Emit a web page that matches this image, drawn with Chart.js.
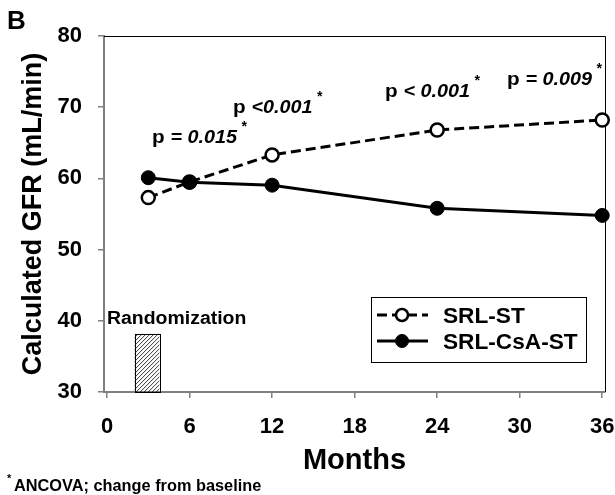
<!DOCTYPE html>
<html>
<head>
<meta charset="utf-8">
<script src="https://cdn.jsdelivr.net/npm/chart.js@4/dist/chart.umd.min.js"></script>
<style>
  html, body { margin: 0; padding: 0; background: #fff; }
  #wrap { width: 615px; height: 495px; }
</style>
</head>
<body>
<div id="wrap"><canvas id="chart" width="615" height="495"></canvas></div>
<script>
// values
const months = [3, 6, 12, 24, 36];
const srlSt = [57.3, 59.5, 63.3, 66.8, 68.2];
const srlCsaSt = [60.1, 59.45, 59.05, 55.8, 54.8];
const xTicks = [0, 6, 12, 18, 24, 30, 36];
const yTicks = [30, 40, 50, 60, 70, 80];
const randSpan = [2, 3.8];      // months covered by the randomization box
const randTop = 38.2;           // box height in mL/min
const pNotes = ["= 0.015", "<0.001", "< 0.001", "= 0.009"];

const FONT = "'Liberation Sans', Arial, Helvetica, sans-serif";
Chart.defaults.font.family = FONT;
Chart.defaults.color = "#000";

const toPts = (ys) => months.map((m, i) => ({ x: m, y: ys[i] }));

function stretchText(ctx, str, x, y, font, sx) {
  ctx.save();
  ctx.font = font;
  ctx.translate(x, y);
  ctx.scale(sx, 1);
  ctx.fillText(str, 0, 0);
  const w = ctx.measureText(str).width * sx;
  ctx.restore();
  return w;
}

// top/right frame, randomization box and text annotations
const extras = {
  id: "extras",
  beforeDatasetsDraw(chart) {
    const { ctx, chartArea: a, scales: { x, y } } = chart;
    // randomization box with hatching
    const x0 = x.getPixelForValue(randSpan[0]);
    const x1 = x.getPixelForValue(randSpan[1]);
    const y0 = y.getPixelForValue(randTop);
    const y1 = y.getPixelForValue(30);
    ctx.save();
    ctx.beginPath();
    ctx.rect(x0, y0, x1 - x0, y1 - y0);
    ctx.clip();
    ctx.strokeStyle = "#000";
    ctx.lineWidth = 0.8;
    const h = y1 - y0;
    for (let s = x0 - h; s < x1 + 4; s += 4) {
      ctx.beginPath();
      ctx.moveTo(s, y1);
      ctx.lineTo(s + h, y0);
      ctx.stroke();
    }
    ctx.restore();
    ctx.save();
    ctx.strokeStyle = "#000";
    ctx.lineWidth = 1;
    ctx.strokeRect(Math.round(x0) + 0.5, Math.round(y0) + 0.5, Math.round(x1 - x0), Math.round(y1 - y0));
    // frame top and right
    ctx.beginPath();
    ctx.moveTo(a.left, a.top + 0.5);
    ctx.lineTo(a.right + 0.5, a.top + 0.5);
    ctx.lineTo(a.right + 0.5, a.bottom);
    ctx.stroke();
    ctx.restore();
  },
  afterDraw(chart) {
    const { ctx } = chart;
    ctx.save();
    ctx.fillStyle = "#000";
    ctx.textBaseline = "alphabetic";
    ctx.textAlign = "left";

    stretchText(ctx, "B", 7, 29, "bold 26px " + FONT, 1);
    stretchText(ctx, "Randomization", 107, 324, "bold 18px " + FONT, 1.08);

    // p values
    const spots = [[152, 143], [233, 113], [385, 97], [507, 85]];
    pNotes.forEach((t, i) => {
      const [px, py] = spots[i];
      let w = stretchText(ctx, "p ", px, py, "bold 18px " + FONT, 1.15);
      w += stretchText(ctx, t, px + w, py, "italic bold 18px " + FONT, 1.1);
      stretchText(ctx, "*", px + w + 4, py - 12, "italic bold 14px " + FONT, 1);
    });

    // footnote
    stretchText(ctx, "*", 7, 482, "bold 11px " + FONT, 1);
    stretchText(ctx, "ANCOVA; change from baseline", 14, 491, "bold 16px " + FONT, 1.02);

    // legend
    const lx = 371, ly = 297, lw = 215, lh = 65;
    ctx.fillStyle = "#fff";
    ctx.fillRect(lx, ly, lw, lh);
    ctx.strokeStyle = "#000";
    ctx.lineWidth = 1;
    ctx.strokeRect(lx + 0.5, ly + 0.5, lw, lh);
    const rows = [315, 341];
    chart.data.datasets.forEach((ds, i) => {
      const ry = rows[i];
      ctx.save();
      ctx.strokeStyle = "#000";
      ctx.lineWidth = 3;
      ctx.setLineDash(ds.borderDash || []);
      ctx.beginPath();
      ctx.moveTo(377, ry);
      ctx.lineTo(428, ry);
      ctx.stroke();
      ctx.setLineDash([]);
      ctx.beginPath();
      ctx.arc(402, ry, ds.pointRadius - 0.5, 0, Math.PI * 2);
      ctx.fillStyle = ds.pointBackgroundColor;
      ctx.fill();
      ctx.lineWidth = ds.pointBorderWidth;
      ctx.stroke();
      ctx.restore();
      ctx.fillStyle = "#000";
      stretchText(ctx, ds.label, 443, ry + 8, "bold 22px " + FONT, 1.03);
    });
    ctx.restore();
  },
};

new Chart(document.getElementById("chart"), {
  type: "line",
  data: {
    datasets: [
      {
        label: "SRL-ST",
        data: toPts(srlSt),
        borderColor: "#000",
        borderWidth: 3,
        borderDash: [10, 5],
        pointRadius: 6.5,
        pointBorderWidth: 2.5,
        pointBackgroundColor: "#fff",
        pointBorderColor: "#000",
        tension: 0,
        clip: false,
        order: 1,
      },
      {
        label: "SRL-CsA-ST",
        data: toPts(srlCsaSt),
        borderColor: "#000",
        borderWidth: 3,
        pointRadius: 7,
        pointBorderWidth: 1,
        pointBackgroundColor: "#000",
        pointBorderColor: "#000",
        tension: 0,
        clip: false,
        order: 0,
      },
    ],
  },
  options: {
    responsive: false,
    animation: false,
    devicePixelRatio: 1,
    layout: { padding: { left: 0, top: 36, right: 10, bottom: 0 } },
    plugins: { legend: { display: false }, tooltip: { enabled: false } },
    scales: {
      x: {
        type: "linear",
        min: -0.22,
        max: 36.2,
        afterBuildTicks: (s) => { s.ticks = xTicks.map((v) => ({ value: v })); },
        afterFit: (s) => { s.height = 103; s.paddingLeft = 0; s.paddingRight = 0; },
        grid: { drawOnChartArea: false, drawTicks: true, tickLength: 6, color: "#808080", lineWidth: 1.5 },
        border: { color: "#808080", width: 2 },
        ticks: { font: { size: 22, weight: "bold" }, color: "#000", padding: 16, maxRotation: 0 },
        title: {
          display: true, text: "Months", color: "#000",
          font: { size: 29, weight: "bold" }, padding: { top: 0, bottom: 17 },
        },
      },
      y: {
        min: 30,
        max: 80,
        afterBuildTicks: (s) => { s.ticks = yTicks.map((v) => ({ value: v })); },
        afterFit: (s) => { s.width = 104; },
        grid: { drawOnChartArea: false, drawTicks: true, tickLength: 6, color: "#808080", lineWidth: 1.5 },
        border: { color: "#808080", width: 2 },
        ticks: { font: { size: 22, weight: "bold" }, color: "#000", padding: 16 },
        title: {
          display: true, text: "Calculated GFR (mL/min)", color: "#000",
          font: { size: 27, weight: "bold" }, padding: { top: 17, bottom: 0 },
        },
      },
    },
  },
  plugins: [extras],
});
</script>
</body>
</html>
